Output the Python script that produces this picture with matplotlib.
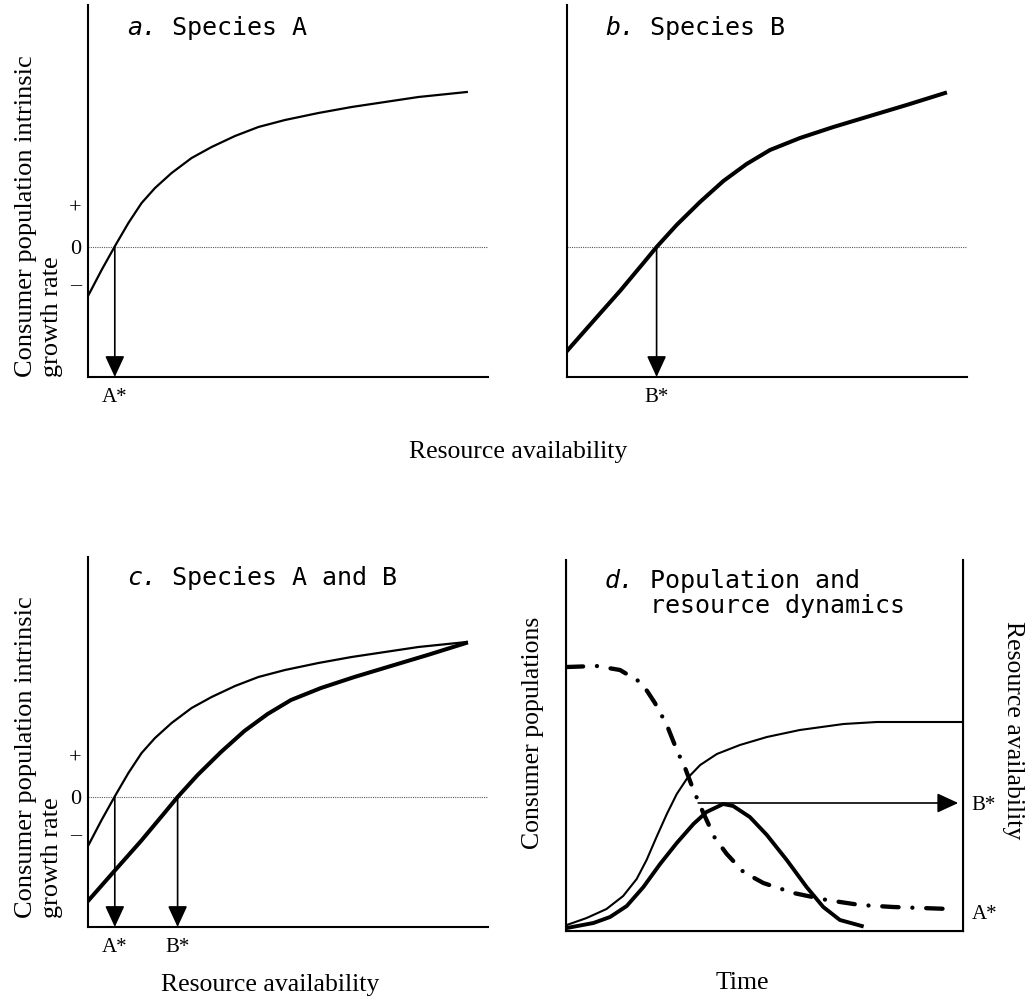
import matplotlib.pyplot as plt
import numpy as np

W, H = 1036, 1000

# growth-rate curves (resource availability vs intrinsic growth rate)
res_a = [0, 0.34, 0.675, 1.01, 1.34, 1.675, 2.09, 2.59, 3.09, 3.675, 4.26, 4.925, 5.76,
         6.59, 7.425, 8.26, 9.47]
growth_a = [-0.49, -0.23, 0.01, 0.24, 0.44, 0.59, 0.74, 0.89, 1.00, 1.11, 1.20, 1.27, 1.34,
            1.40, 1.45, 1.50, 1.55]
res_b = [0, 0.66, 1.325, 1.91, 2.24, 2.74, 3.325, 3.91, 4.49, 5.075, 5.825, 6.66, 7.49,
         8.49, 9.45]
growth_b = [-1.04, -0.74, -0.44, -0.16, 0.0, 0.22, 0.45, 0.66, 0.83, 0.97, 1.09, 1.20, 1.30,
            1.42, 1.54]
a_star = 0.67
b_star = 2.24
growth_ticks = [0.40, 0.0, -0.36]
growth_ticklabels = ['+', '0', '\u2013']

# population and resource dynamics
time_a = [0.02, 0.52, 1.02, 1.44, 1.78, 2.03, 2.28, 2.54, 2.79, 3.04, 3.38, 3.80, 4.38,
          5.06, 5.89, 6.99, 7.83, 8.66, 10]
pop_a = [0.06, 0.13, 0.22, 0.35, 0.52, 0.71, 0.94, 1.17, 1.37, 1.52, 1.66, 1.77, 1.86,
         1.94, 2.01, 2.07, 2.09, 2.09, 2.09]
time_b = [0.02, 0.69, 1.11, 1.53, 1.95, 2.37, 2.79, 3.21, 3.54, 3.96, 4.21, 4.63, 5.06,
          5.56, 6.06, 6.48, 6.90, 7.45]
pop_b = [0.03, 0.08, 0.14, 0.25, 0.44, 0.67, 0.88, 1.07, 1.19, 1.27, 1.25, 1.14, 0.96,
         0.71, 0.44, 0.24, 0.11, 0.05]
time_r = [0.02, 0.77, 1.36, 1.91, 2.24, 2.54, 2.79, 3.00, 3.21, 3.46, 3.75, 4.05, 4.47,
          4.97, 5.73, 6.57, 7.41, 8.24, 9.67]
resource = [2.64, 2.65, 2.61, 2.48, 2.28, 2.06, 1.81, 1.63, 1.41, 1.18, 0.93, 0.77, 0.59,
            0.48, 0.38, 0.31, 0.26, 0.24, 0.22]
arrow_start = 3.33
arrow_end = 9.88
b_star_level = 1.28
a_star_level = 0.19

plt.rcParams['font.family'] = ['Liberation Serif', 'DejaVu Serif']
MONO = 'DejaVu Sans Mono'
CHAR = 15.05  # advance of one mono character at 18 pt, in pixels


def px_rect(l, t, r, b):
    return [l / W, 1 - b / H, (r - l) / W, (b - t) / H]


def fx(px):
    return px / W


def fy(py):
    return 1 - py / H


ARROW = dict(arrowstyle='-|>,head_length=0.65,head_width=0.3', mutation_scale=20,
             lw=1.2, color='black', shrinkA=0, shrinkB=0)

fig = plt.figure(figsize=(W / 100, H / 100), dpi=100)


def growth_axes(rect, ytop):
    ax = fig.add_axes(rect)
    ax.set_xlim(0, 10)
    ax.set_ylim(-1.30, ytop)
    for s in ['top', 'right']:
        ax.spines[s].set_visible(False)
    for s in ['left', 'bottom']:
        ax.spines[s].set_linewidth(1.5)
    ax.axhline(0, ls=(0, (1, 1)), lw=0.8, color='0.35', zorder=1)
    ax.tick_params(length=0)
    return ax


def add_arrow(ax, x):
    ax.annotate('', xy=(x, -1.30), xytext=(x, 0), arrowprops=ARROW)


def title(x, y, letter, rest):
    fig.text(fx(x), fy(y), letter, family=MONO, style='italic', size=18, va='baseline')
    fig.text(fx(x + 3 * CHAR), fy(y), rest, family=MONO, size=18, va='baseline')


# a. Species A
ax = growth_axes(px_rect(88, 5, 488, 377), 2.42)
ax.plot(res_a, growth_a, color='black', lw=1.6)
add_arrow(ax, a_star)
ax.set_yticks(growth_ticks, growth_ticklabels, fontsize=16)
ax.set_xticks([a_star], ['A*'], fontsize=15)
ax.tick_params(axis='y', pad=5)
ax.tick_params(axis='x', pad=8)
title(127, 35, 'a.', 'Species A')

# b. Species B
ax = growth_axes(px_rect(567, 5, 967, 377), 2.42)
ax.plot(res_b, growth_b, color='black', lw=2.9)
add_arrow(ax, b_star)
ax.set_yticks([])
ax.set_xticks([b_star], ['B*'], fontsize=15)
ax.tick_params(axis='x', pad=8)
title(605, 35, 'b.', 'Species B')

# c. Species A and B
ax = growth_axes(px_rect(88, 557, 488, 927), 2.40)
ax.plot(res_a, growth_a, color='black', lw=1.6)
ax.plot(res_b, growth_b, color='black', lw=2.9)
add_arrow(ax, a_star)
add_arrow(ax, b_star)
ax.set_yticks(growth_ticks, growth_ticklabels, fontsize=16)
ax.set_xticks([a_star, b_star], ['A*', 'B*'], fontsize=15)
ax.tick_params(axis='y', pad=5)
ax.tick_params(axis='x', pad=8)
title(127, 585, 'c.', 'Species A and B')

# d. Population and resource dynamics
ax = fig.add_axes(px_rect(566, 560, 963, 931))
ax.set_xlim(0, 10)
ax.set_ylim(0, 3.71)
ax.spines['top'].set_visible(False)
for s in ['left', 'bottom', 'right']:
    ax.spines[s].set_linewidth(1.5)
ax.plot(time_a, pop_a, color='black', lw=1.5)
ax.plot(time_b, pop_b, color='black', lw=2.8)
ax.plot(time_r, resource, color='black', lw=3.1, ls=(0, (3.8, 3.2, 0.01, 3.2)),
        dash_capstyle='round')
ax.annotate('', xy=(arrow_end, b_star_level), xytext=(arrow_start, b_star_level),
            arrowprops=ARROW)
ax.set_xticks([])
ax.set_yticks([])
tw = ax.twinx()
tw.set_ylim(0, 3.71)
tw.spines['top'].set_visible(False)
tw.set_yticks([b_star_level, a_star_level], ['B*', 'A*'], fontsize=15)
tw.tick_params(length=0, pad=6)
title(605, 588, 'd.', 'Population and')
fig.text(fx(605 + 3 * CHAR), fy(613), 'resource dynamics', family=MONO, size=18,
         va='baseline')

# axis labels
ylab = 'Consumer population intrinsic\ngrowth rate'
fig.text(fx(39), fy(377), ylab, rotation=90, ha='center', va='bottom',
         multialignment='left', fontsize=19, linespacing=1.25)
fig.text(fx(39), fy(918), ylab, rotation=90, ha='center', va='bottom',
         multialignment='left', fontsize=19, linespacing=1.25)
fig.text(fx(518), fy(452), 'Resource availability', ha='center', va='center', fontsize=18.5)
fig.text(fx(270), fy(985), 'Resource availability', ha='center', va='center', fontsize=18.5)
fig.text(fx(742), fy(983), 'Time', ha='center', va='center', fontsize=18.5)
fig.text(fx(533), fy(733), 'Consumer populations', rotation=90, ha='center', va='center',
         fontsize=18.5)
fig.text(fx(1013), fy(730), 'Resource availability', rotation=270, ha='center', va='center',
         fontsize=18.5)

fig.savefig('out.png', dpi=100)
